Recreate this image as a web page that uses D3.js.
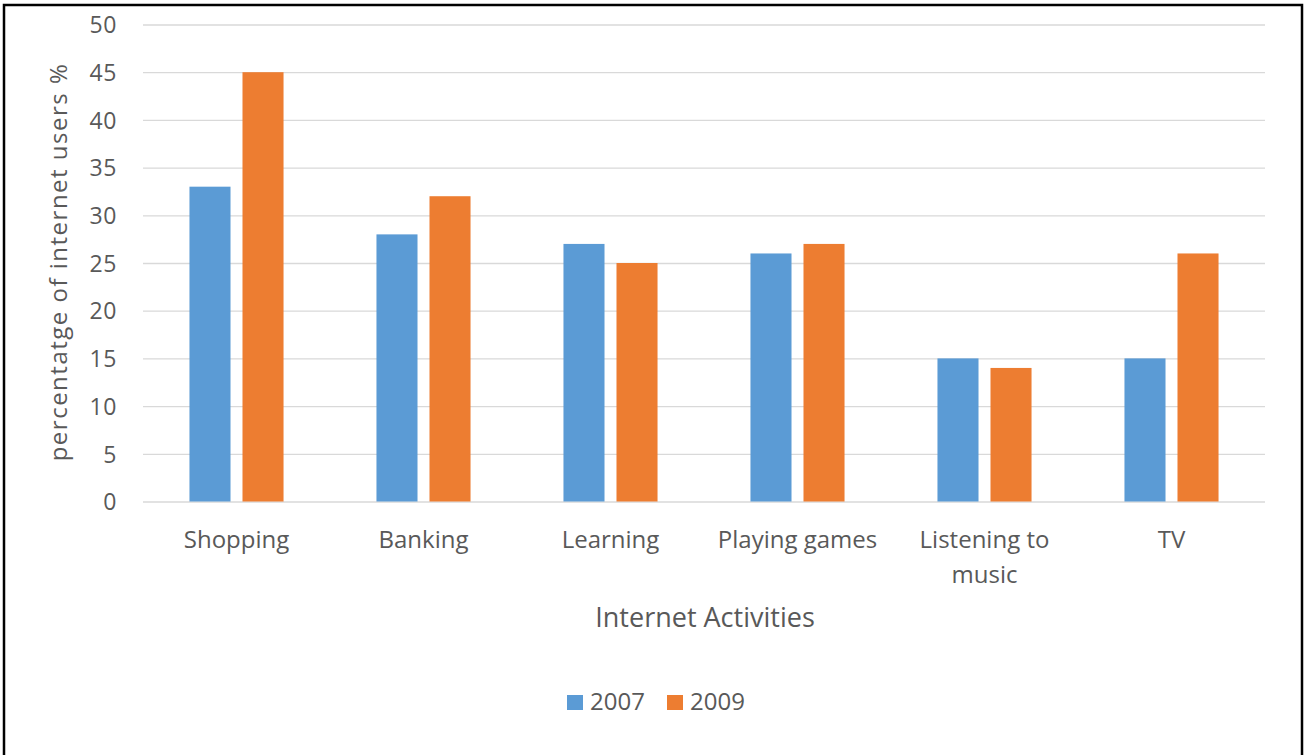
<!DOCTYPE html>
<html>
<head>
<meta charset="utf-8">
<script src="https://cdn.jsdelivr.net/npm/d3@7"></script>
<style>
  html, body { margin: 0; padding: 0; background: #fff; }
  svg { display: block; }
  text { font-family: "Open Sans", sans-serif; fill: #595959; }
</style>
</head>
<body>
<svg id="chart" width="1304" height="755"></svg>
<script>
const categories = ["Shopping", "Banking", "Learning", "Playing games", "Listening to music", "TV"];
const categoryLines = [["Shopping"], ["Banking"], ["Learning"], ["Playing games"], ["Listening to", "music"], ["TV"]];
const seriesNames = ["2007", "2009"];
const values2007 = [33, 28, 27, 26, 15, 15];
const values2009 = [45, 32, 25, 27, 14, 26];
const yTicks = [0, 5, 10, 15, 20, 25, 30, 35, 40, 45, 50];
const colors = ["#5B9BD5", "#ED7D31"];
const yTitle = "percentatge of internet users %";
const xTitle = "Internet Activities";

const svg = d3.select("#chart");

// outer border
svg.append("rect").attr("x", 4).attr("y", 5).attr("width", 1298).attr("height", 760)
  .attr("fill", "none").attr("stroke", "#000").attr("stroke-width", 2.5);

const plotLeft = 143, plotRight = 1265, plotTop = 24.5, plotBottom = 501.5;

const y = d3.scaleLinear().domain([0, 50]).range([plotBottom, plotTop]);
const x0 = d3.scaleBand().domain(categories).range([plotLeft, plotRight])
  .paddingInner(0.497).paddingOuter(0.497 / 2);
const x1 = d3.scaleBand().domain(seriesNames).range([0, x0.bandwidth()]).paddingInner(0.226);

// gridlines
const yAxis = d3.axisLeft(y).tickValues(yTicks).tickSize(-(plotRight - plotLeft)).tickPadding(26);
const gy = svg.append("g").attr("transform", `translate(${plotLeft},0)`).call(yAxis);
gy.select(".domain").remove();
gy.selectAll(".tick line").attr("stroke", "#D9D9D9").attr("stroke-width", 1.3);
gy.selectAll(".tick text").attr("font-size", 23).attr("letter-spacing", 0.6).style("fill", "#595959")
  .attr("font-family", "'Open Sans', sans-serif").attr("dy", "0.36em");

// bars
const data = categories.map((c, i) => ({ cat: c, vals: [values2007[i], values2009[i]] }));
const groups = svg.append("g").selectAll("g").data(data).join("g")
  .attr("transform", d => `translate(${x0(d.cat)},0)`);
groups.selectAll("rect").data(d => d.vals.map((v, j) => ({ s: seriesNames[j], v, j })))
  .join("rect")
  .attr("x", d => x1(d.s))
  .attr("width", x1.bandwidth())
  .attr("y", d => y(d.v))
  .attr("height", d => y(0) - y(d.v))
  .attr("fill", d => colors[d.j]);

// category labels
const xAxisG = svg.append("g");
categories.forEach((c, i) => {
  const cx = x0(c) + x0.bandwidth() / 2;
  const t = xAxisG.append("text")
    .attr("x", cx)
    .attr("y", 548)
    .attr("text-anchor", "middle")
    .attr("font-size", 24);
  categoryLines[i].forEach((ln, k) => {
    t.append("tspan").attr("x", cx).attr("dy", k === 0 ? 0 : 35).text(ln);
  });
});

// axis titles
svg.append("text").attr("x", (plotLeft + plotRight) / 2 + 1).attr("y", 627)
  .attr("text-anchor", "middle").attr("font-size", 27).text(xTitle);
svg.append("text")
  .attr("transform", `translate(67,262) rotate(-90)`)
  .attr("text-anchor", "middle").attr("font-size", 24).attr("letter-spacing", 1.5).text(yTitle);

// legend
const legend = svg.append("g");
const legX = [567, 667];
seriesNames.forEach((s, i) => {
  legend.append("rect").attr("x", legX[i]).attr("y", 695).attr("width", 16).attr("height", 15).attr("fill", colors[i]);
  legend.append("text").attr("x", legX[i] + 23).attr("y", 710).attr("font-size", 24).text(s);
});
</script>
</body>
</html>
